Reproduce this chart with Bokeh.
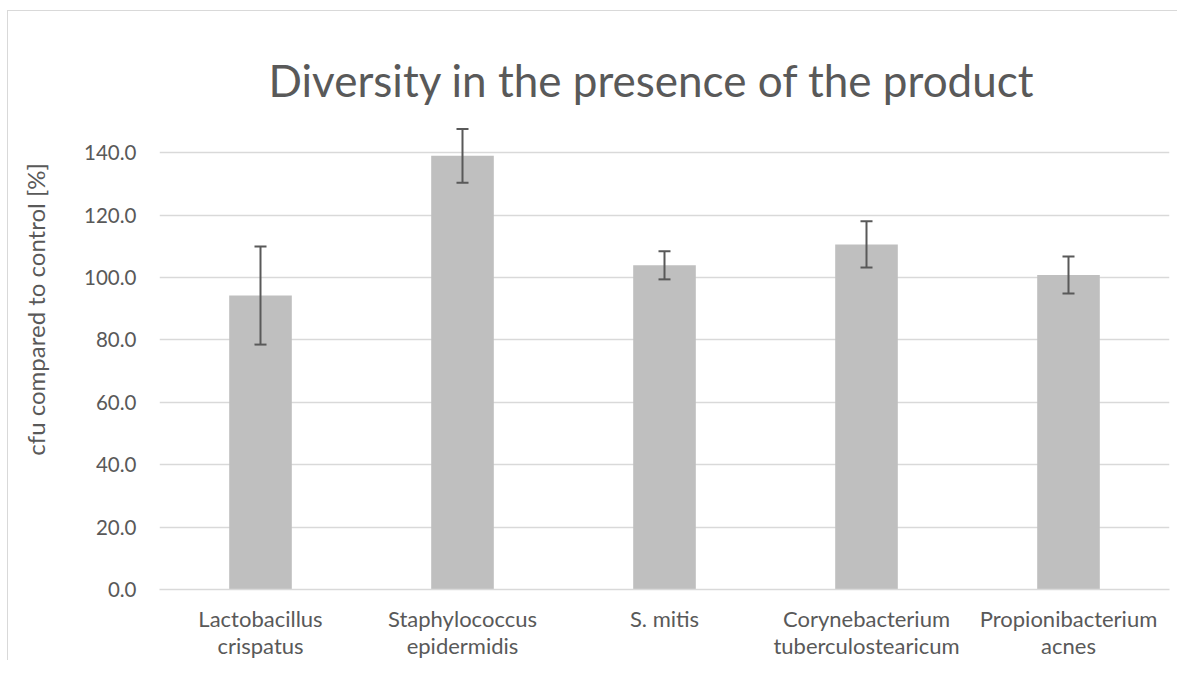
from bokeh.plotting import figure
from bokeh.models import ColumnDataSource, Whisker, FixedTicker, PrintfTickFormatter, TeeHead, Range1d
from bokeh.embed import file_html
from bokeh.resources import INLINE

categories = ["Lactobacillus\ncrispatus", "Staphylococcus\nepidermidis", "S. mitis",
              "Corynebacterium\ntuberculostearicum", "Propionibacterium\nacnes"]
values = [94.2, 139.0, 103.9, 110.6, 100.8]
errors = [15.7, 8.6, 4.5, 7.4, 5.9]
y_ticks = [0, 20, 40, 60, 80, 100, 120, 140]

title_text = "Diversity in the presence of the product"
y_label = "cfu compared to control [%]"

FONT = "Lato"
TXT = "#595959"

lower = [v - e for v, e in zip(values, errors)]
upper = [v + e for v, e in zip(values, errors)]
src = ColumnDataSource(dict(cat=categories, val=values, lower=lower, upper=upper))

p = figure(x_range=categories, y_range=Range1d(0, 150), width=1170, height=650,
           output_backend="svg", toolbar_location=None, title=title_text,
           min_border_left=151, min_border_right=9, min_border_top=110, min_border_bottom=70)
p.styles = {"margin-left": "7px", "margin-top": "10px",
            "border-left": "1px solid #d9d9d9", "border-top": "1px solid #d9d9d9"}

p.title.text_font = FONT
p.title.text_font_size = "44px"
p.title.text_font_style = "normal"
p.title.text_color = TXT
p.title.align = "left"
p.title.offset = 109
p.title.standoff = 31

p.vbar(x="cat", top="val", width=0.31, source=src, fill_color="#bfbfbf", line_color=None)

w = Whisker(base="cat", lower="lower", upper="upper", source=src,
            line_color="#595959", line_width=2, level="overlay",
            upper_head=TeeHead(size=12, line_color="#595959", line_width=2),
            lower_head=TeeHead(size=12, line_color="#595959", line_width=2))
p.add_layout(w)

p.outline_line_color = None
p.background_fill_color = "white"
p.border_fill_color = "white"

p.xgrid.grid_line_color = None
p.ygrid.grid_line_color = "#d9d9d9"
p.ygrid.grid_line_width = 1.5

p.yaxis.ticker = FixedTicker(ticks=y_ticks)
p.yaxis.formatter = PrintfTickFormatter(format="%.1f")
p.yaxis.axis_line_color = None
p.yaxis.major_tick_line_color = None
p.yaxis.minor_tick_line_color = None
p.yaxis.major_tick_out = 0
p.yaxis.major_tick_in = 0
p.yaxis.major_label_standoff = 23
p.yaxis.major_label_text_font = FONT
p.yaxis.major_label_text_font_size = "20.5px"
p.yaxis.major_label_text_color = TXT
# leading non-breaking spaces lift the label above the frame centre, as in the reference
p.yaxis.axis_label = "\u00a0" * 15 + y_label
p.yaxis.axis_label_text_font = FONT
p.yaxis.axis_label_text_font_size = "24px"
p.yaxis.axis_label_text_font_style = "normal"
p.yaxis.axis_label_text_color = TXT
p.yaxis.axis_label_standoff = 31

p.xaxis.axis_line_color = "#d9d9d9"
p.xaxis.axis_line_width = 1.5
p.xaxis.major_tick_line_color = None
p.xaxis.minor_tick_line_color = None
p.xaxis.major_tick_out = 0
p.xaxis.major_tick_in = 0
p.xaxis.major_label_standoff = 15
p.xaxis.major_label_text_font = FONT
p.xaxis.major_label_text_font_size = "22px"
p.xaxis.major_label_text_line_height = 1.0
p.xaxis.major_label_text_color = TXT

open("out.html", "w").write(file_html(p, INLINE))
